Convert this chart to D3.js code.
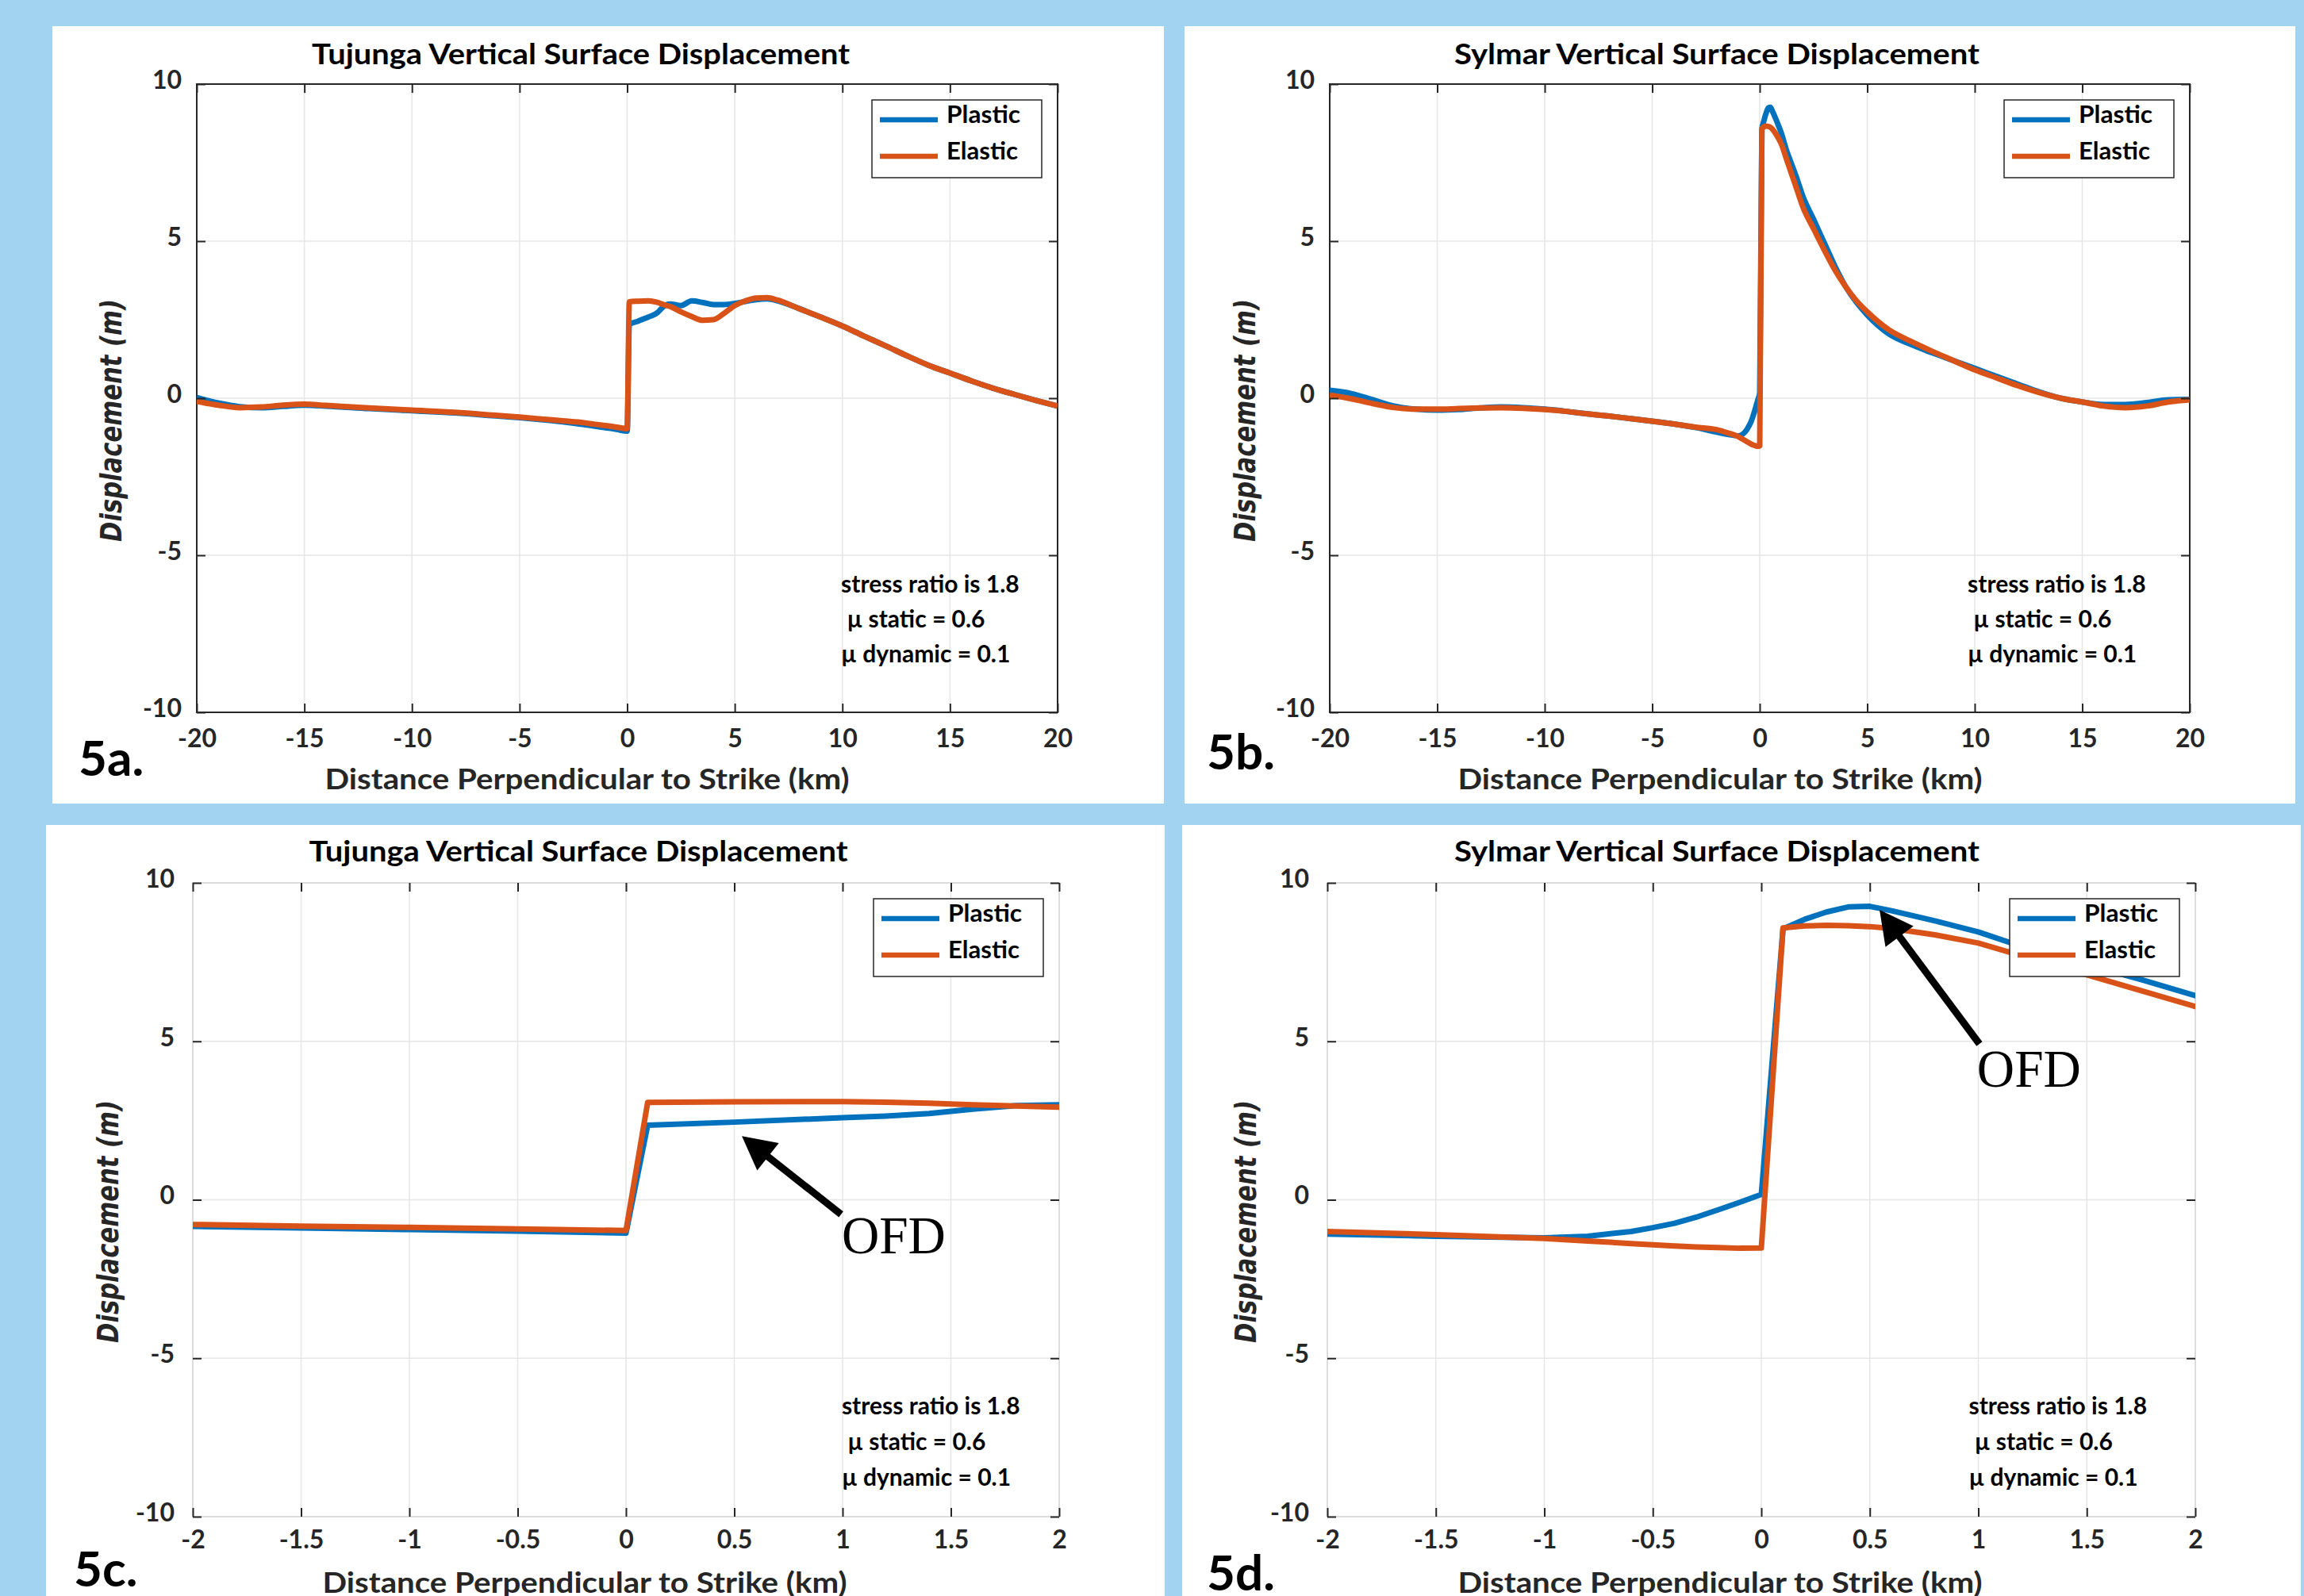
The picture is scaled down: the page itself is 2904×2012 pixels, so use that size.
<!DOCTYPE html>
<html>
<head>
<meta charset="utf-8">
<script src="https://cdn.jsdelivr.net/npm/d3@7"></script>
<style>
  body { margin: 0; background: #a2d4f2; }
</style>
</head>
<body>
<div id="figure"></div>
<script>
var svgWidth = 2904;
var svgHeight = 2012;

// tick values
var wideTicks = [-20, -15, -10, -5, 0, 5, 10, 15, 20];
var closeTicks = [-2, -1.5, -1, -0.5, 0, 0.5, 1, 1.5, 2];
var yTicks = [-10, -5, 0, 5, 10];

var seriesNames = ["Plastic", "Elastic"];
var noteLines = ["stress ratio is 1.8", " \u00b5 static = 0.6", "\u00b5 dynamic = 0.1"];

// Tujunga profile: distance (km) and vertical displacement (m)
var tujungaX = [-20, -19, -18, -17, -16, -15, -14, -12, -10, -8, -6, -5, -4, -3, -2, -1.5, -1, -0.5, 0,
  0.1, 0.5, 1, 1.2, 1.4, 1.6, 1.8, 2, 2.5, 3, 3.5, 4, 4.5, 5, 5.5, 6, 6.5, 7,
  8, 9, 10, 11, 12, 13, 14, 15, 16, 17, 18, 19, 20];
var tujungaPlastic = [0.02, -0.15, -0.27, -0.3, -0.26, -0.22, -0.25, -0.33, -0.4, -0.47, -0.57, -0.62, -0.68, -0.75, -0.84, -0.89, -0.94, -0.99, -1.05,
  2.35, 2.45, 2.59, 2.64, 2.72, 2.86, 2.97, 3.0, 2.95, 3.1, 3.05, 2.98, 2.98, 3.02, 3.08, 3.14, 3.16, 3.1,
  2.85, 2.58, 2.3, 1.98, 1.67, 1.35, 1.05, 0.8, 0.55, 0.32, 0.12, -0.07, -0.25];
var tujungaElastic = [-0.1, -0.22, -0.3, -0.28, -0.22, -0.19, -0.23, -0.31, -0.38, -0.45, -0.55, -0.6, -0.66, -0.72, -0.78, -0.83, -0.87, -0.92, -0.97,
  3.07, 3.09, 3.1, 3.08, 3.05, 3.0, 2.96, 2.92, 2.75, 2.6, 2.48, 2.5, 2.7, 2.95, 3.1, 3.19, 3.2, 3.12,
  2.85, 2.58, 2.3, 1.98, 1.67, 1.35, 1.05, 0.8, 0.55, 0.32, 0.12, -0.07, -0.25];

// Sylmar profile
var sylmarX = [-20, -19, -18, -17, -16, -15, -14, -13, -12, -11, -10, -9, -8, -7, -6, -5, -4, -3, -2,
  -1.5, -1, -0.8, -0.6, -0.5, -0.4, -0.3, -0.2, -0.1, 0,
  0.1, 0.2, 0.3, 0.4, 0.5, 0.6, 0.8, 1, 1.25, 1.5, 1.75, 2,
  2.5, 3, 3.5, 4, 4.5, 5,
  6, 7, 8, 9, 10, 11, 12, 13, 14, 15, 16, 17, 18, 19, 20];
var sylmarPlastic = [0.25, 0.15, -0.05, -0.25, -0.35, -0.38, -0.36, -0.31, -0.28, -0.3, -0.35, -0.42, -0.5, -0.57, -0.65, -0.73, -0.82, -0.93, -1.08,
  -1.15, -1.2, -1.15, -1.0, -0.88, -0.74, -0.55, -0.32, -0.08, 0.17,
  8.55, 8.85, 9.08, 9.24, 9.26, 9.12, 8.8, 8.45, 7.88, 7.42, 6.95, 6.44,
  5.7, 4.95, 4.2, 3.55, 3.05, 2.65,
  2.05, 1.72, 1.45, 1.2, 0.95, 0.7, 0.45, 0.2, 0.0, -0.12, -0.2, -0.2, -0.14, -0.05, -0.04];
var sylmarElastic = [0.1, -0.02, -0.17, -0.3, -0.35, -0.35, -0.33, -0.31, -0.3, -0.32, -0.36, -0.42, -0.5, -0.57, -0.65, -0.73, -0.82, -0.92, -1.0,
  -1.1, -1.22, -1.3, -1.38, -1.42, -1.46, -1.49, -1.51, -1.53, -1.52,
  8.58, 8.64, 8.66, 8.65, 8.62, 8.56, 8.36, 8.1, 7.6, 7.1, 6.6, 6.1,
  5.4, 4.72, 4.08, 3.55, 3.1, 2.75,
  2.18, 1.82, 1.5, 1.2, 0.9, 0.65, 0.4, 0.18, 0.0, -0.12, -0.25, -0.3, -0.25, -0.12, -0.05];

var colors = ["#0072bd", "#d95319"];

// layout of the four panels (pixels), notes and arrows in data units
var panels = [
  {tag: "5a.", title: "Tujunga Vertical Surface Displacement", xs: tujungaX, ys: [tujungaPlastic, tujungaElastic],
   xDomain: [-20, 20], xTicks: wideTicks, zoomed: false,
   sheet: [66, 33, 1401, 980], plot: [248, 106, 1333, 898],
   titlePos: [732, 81, 678], xLabelPos: [740, 995], yLabelPos: [153, 530], tagPos: [99, 978],
   note: [9.94, -6.19], noteGap: 44},
  {tag: "5b.", title: "Sylmar Vertical Surface Displacement", xs: sylmarX, ys: [sylmarPlastic, sylmarElastic],
   xDomain: [-20, 20], xTicks: wideTicks, zoomed: false,
   sheet: [1493, 33, 1400, 980], plot: [1676, 106, 2760, 898],
   titlePos: [2164, 81, 662], xLabelPos: [2168, 995], yLabelPos: [1582, 530], tagPos: [1521, 970],
   note: [9.67, -6.19], noteGap: 44},
  {tag: "5c.", title: "Tujunga Vertical Surface Displacement", xs: tujungaX, ys: [tujungaPlastic, tujungaElastic],
   xDomain: [-2, 2], xTicks: closeTicks, zoomed: true,
   sheet: [58, 1040, 1410, 972], plot: [243, 1113, 1335, 1912],
   titlePos: [729, 1086, 679], xLabelPos: [737, 2008], yLabelPos: [149, 1540], tagPos: [93, 2000],
   note: [0.996, -6.77], noteGap: 45,
   arrow: {tail: [0.993, -0.46], tip: [0.535, 2.01], text: [0.996, -1.69]}},
  {tag: "5d.", title: "Sylmar Vertical Surface Displacement", xs: sylmarX, ys: [sylmarPlastic, sylmarElastic],
   xDomain: [-2, 2], xTicks: closeTicks, zoomed: true,
   sheet: [1490, 1040, 1410, 972], plot: [1673, 1113, 2767, 1912],
   titlePos: [2164, 1086, 662], xLabelPos: [2168, 2008], yLabelPos: [1583, 1540], tagPos: [1521, 2005],
   note: [0.956, -6.77], noteGap: 45,
   arrow: {tail: [1.005, 4.92], tip: [0.545, 9.15], text: [0.994, 3.57]}}
];

var svg = d3.select("#figure")
  .append("svg")
  .attr("width", svgWidth)
  .attr("height", svgHeight)
  .attr("font-family", "Lato, 'Open Sans', sans-serif");

svg.append("rect")
  .attr("width", svgWidth)
  .attr("height", svgHeight)
  .attr("fill", "#a2d4f2");

function styleAxis(sel) {
  sel.attr("color", "#262626")
    .attr("font-family", "Lato")
    .attr("font-size", 32)
    .attr("font-weight", "bold");
  sel.select(".domain").remove();
  sel.selectAll(".tick line").attr("stroke-width", 2);
}

panels.forEach(function(p, i) {
  svg.append("rect")
    .attr("x", p.sheet[0])
    .attr("y", p.sheet[1])
    .attr("width", p.sheet[2])
    .attr("height", p.sheet[3])
    .attr("fill", "white");

  var width = p.plot[2] - p.plot[0];
  var height = p.plot[3] - p.plot[1];

  var xScale = d3.scaleLinear().domain(p.xDomain).range([0, width]);
  var yScale = d3.scaleLinear().domain([-10, 10]).range([height, 0]);

  var chartGroup = svg.append("g")
    .attr("transform", `translate(${p.plot[0]}, ${p.plot[1]})`);

  // grid
  chartGroup.append("g").selectAll("line")
    .data(p.xTicks)
    .join("line")
    .attr("x1", d => xScale(d)).attr("x2", d => xScale(d))
    .attr("y1", 0).attr("y2", height)
    .attr("stroke", "#e6e6e6")
    .attr("stroke-width", 1.5);
  chartGroup.append("g").selectAll("line")
    .data(yTicks)
    .join("line")
    .attr("y1", d => yScale(d)).attr("y2", d => yScale(d))
    .attr("x1", 0).attr("x2", width)
    .attr("stroke", "#e6e6e6")
    .attr("stroke-width", 1.5);

  // box
  chartGroup.append("rect")
    .attr("width", width)
    .attr("height", height)
    .attr("fill", "none")
    .attr("stroke", p.zoomed ? "#dcdcdc" : "#262626")
    .attr("stroke-width", 2);

  // curves
  chartGroup.append("clipPath")
    .attr("id", "clip" + i)
    .append("rect")
    .attr("width", width)
    .attr("height", height);

  var line = d3.line()
    .x(d => xScale(d[0]))
    .y(d => yScale(d[1]))
    .curve(p.zoomed ? d3.curveLinear : d3.curveMonotoneX);

  p.ys.forEach(function(values, k) {
    chartGroup.append("path")
      .datum(p.xs.map((xv, j) => [xv, values[j]]))
      .attr("clip-path", `url(#clip${i})`)
      .attr("fill", "none")
      .attr("stroke", colors[k])
      .attr("stroke-width", 7)
      .attr("stroke-linejoin", "round")
      .attr("d", line);
  });

  // axes, ticks pointing inward
  var bottomAxis = d3.axisBottom(xScale).tickValues(p.xTicks).tickFormat(d => String(d))
    .tickSizeInner(-11).tickSizeOuter(0).tickPadding(p.zoomed ? 17 : 21);
  var topAxis = d3.axisTop(xScale).tickValues(p.xTicks).tickFormat("")
    .tickSizeInner(-11).tickSizeOuter(0);
  var leftAxis = d3.axisLeft(yScale).tickValues(yTicks).tickFormat(d => String(d))
    .tickSizeInner(-11).tickSizeOuter(0).tickPadding(p.zoomed ? 23 : 19);
  var rightAxis = d3.axisRight(yScale).tickValues(yTicks).tickFormat("")
    .tickSizeInner(-11).tickSizeOuter(0);

  chartGroup.append("g").attr("transform", `translate(0, ${height})`).call(bottomAxis).call(styleAxis);
  chartGroup.append("g").call(topAxis).call(styleAxis);
  chartGroup.append("g").call(leftAxis).call(styleAxis)
    .selectAll("text").attr("dy", "0.17em");
  chartGroup.append("g").attr("transform", `translate(${width}, 0)`).call(rightAxis).call(styleAxis);

  // legend
  var legend = chartGroup.append("g")
    .attr("transform", `translate(${width - 20 - 214}, 20)`);
  legend.append("rect")
    .attr("width", 214)
    .attr("height", 98)
    .attr("fill", "white")
    .attr("stroke", "#262626")
    .attr("stroke-width", 1.5);
  seriesNames.forEach(function(name, k) {
    legend.append("line")
      .attr("x1", 10).attr("x2", 83)
      .attr("y1", 25 + k * 46).attr("y2", 25 + k * 46)
      .attr("stroke", colors[k])
      .attr("stroke-width", 6.5);
    legend.append("text")
      .attr("x", 94)
      .attr("y", 28 + k * 46 + 1)
      .attr("font-size", 30)
      .attr("font-weight", "bold")
      .attr("textLength", k == 0 ? 93 : 90)
      .attr("lengthAdjust", "spacingAndGlyphs")
      .text(name);
  });

  // friction note
  noteLines.forEach(function(t, k) {
    chartGroup.append("text")
      .attr("x", xScale(p.note[0]))
      .attr("y", yScale(p.note[1]) + k * p.noteGap)
      .attr("font-size", 30)
      .attr("font-weight", "bold")
      .style("white-space", "pre")
      .text(t);
  });

  // OFD arrow
  if (p.arrow) {
    var tail = [xScale(p.arrow.tail[0]), yScale(p.arrow.tail[1])];
    var tip = [xScale(p.arrow.tip[0]), yScale(p.arrow.tip[1])];
    var len = Math.hypot(tip[0] - tail[0], tip[1] - tail[1]);
    var ux = (tip[0] - tail[0]) / len, uy = (tip[1] - tail[1]) / len;
    var headLen = 42, headHalf = 22;
    var base = [tip[0] - ux * headLen, tip[1] - uy * headLen];
    chartGroup.append("line")
      .attr("x1", tail[0]).attr("y1", tail[1])
      .attr("x2", base[0] + ux * 4).attr("y2", base[1] + uy * 4)
      .attr("stroke", "black")
      .attr("stroke-width", 9);
    chartGroup.append("path")
      .attr("d", `M${tip[0]},${tip[1]}L${base[0] - uy * headHalf},${base[1] + ux * headHalf}L${base[0] + uy * headHalf},${base[1] - ux * headHalf}Z`)
      .attr("fill", "black");
    chartGroup.append("text")
      .attr("x", xScale(p.arrow.text[0]))
      .attr("y", yScale(p.arrow.text[1]))
      .attr("font-family", "'Liberation Serif', 'DejaVu Serif', serif")
      .attr("font-size", 68)
      .attr("textLength", 131)
      .attr("lengthAdjust", "spacingAndGlyphs")
      .text("OFD");
  }

  // titles and labels
  svg.append("text")
    .attr("x", p.titlePos[0])
    .attr("y", p.titlePos[1])
    .attr("text-anchor", "middle")
    .attr("font-size", 36)
    .attr("font-weight", "bold")
    .attr("textLength", p.titlePos[2])
    .attr("lengthAdjust", "spacingAndGlyphs")
    .text(p.title);

  svg.append("text")
    .attr("x", p.xLabelPos[0])
    .attr("y", p.xLabelPos[1])
    .attr("text-anchor", "middle")
    .attr("font-size", 37)
    .attr("font-weight", "bold")
    .attr("fill", "#262626")
    .attr("textLength", 661)
    .attr("lengthAdjust", "spacingAndGlyphs")
    .text("Distance Perpendicular to Strike (km)");

  svg.append("text")
    .attr("transform", `translate(${p.yLabelPos[0]}, ${p.yLabelPos[1]}) rotate(-90)`)
    .attr("text-anchor", "middle")
    .attr("font-family", "'DejaVu Sans', Verdana, sans-serif")
    .attr("font-style", "italic")
    .attr("font-weight", "bold")
    .attr("font-size", 38)
    .attr("fill", "#262626")
    .attr("textLength", 306)
    .attr("lengthAdjust", "spacingAndGlyphs")
    .text("Displacement (m)");

  svg.append("text")
    .attr("x", p.tagPos[0])
    .attr("y", p.tagPos[1])
    .attr("font-size", 62)
    .attr("font-weight", "bold")
    .text(p.tag);
});
</script>
</body>
</html>
